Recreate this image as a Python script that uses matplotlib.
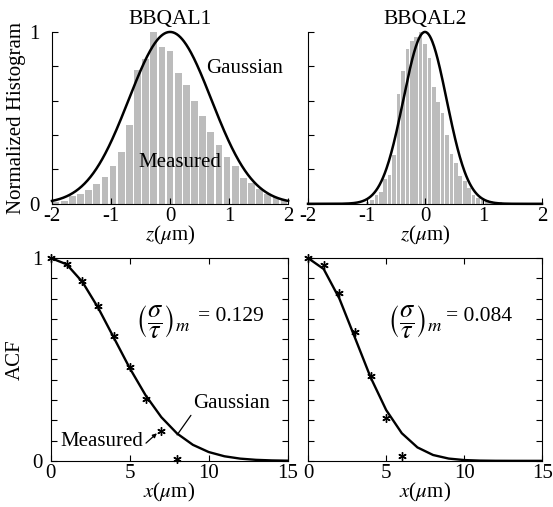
import numpy as np
import matplotlib
matplotlib.use("Agg")
from matplotlib import pyplot as plt

plt.rcParams['font.family'] = ['Liberation Serif', 'DejaVu Serif']
plt.rcParams['mathtext.fontset'] = 'stix'
plt.rcParams['font.size'] = 15

# --- data ---
# normalized histograms (bins span -2..2)
hist1 = [0.012, 0.016, 0.048, 0.058, 0.082, 0.118, 0.157, 0.22, 0.30, 0.46,
         0.78, 0.84, 1.0, 0.91, 0.89, 0.76, 0.69, 0.60, 0.51, 0.42,
         0.34, 0.27, 0.22, 0.15, 0.12, 0.085, 0.06, 0.04, 0.02]
hist2 = [0]*13 + [0.01, 0.023, 0.05, 0.066, 0.145, 0.165, 0.285, 0.64, 0.77, 0.90,
                  0.95, 0.97, 1.0, 0.93, 0.85, 0.68, 0.59, 0.53, 0.40, 0.29,
                  0.24, 0.16, 0.13, 0.09, 0.05, 0.035, 0.025, 0.02, 0.015, 0.01,
                  0.008, 0.005] + [0]*8
sigma1 = 0.70   # gaussian fit width, BBQAL1 (um)
sigma2 = 0.37   # gaussian fit width, BBQAL2 (um)

# autocorrelation, measured points and gaussian correlation lengths
lag1 = [0, 1, 2, 3, 4, 5, 6, 7, 8]
acf1 = [1.0, 0.972, 0.885, 0.764, 0.617, 0.461, 0.303, 0.148, 0.008]
lag2 = [0, 1, 2, 3, 4, 5, 6]
acf2 = [1.0, 0.967, 0.827, 0.633, 0.42, 0.209, 0.025]
corr_len1 = 5.65
corr_len2 = 4.25
ratio1 = "0.129"
ratio2 = "0.084"

titles = ["BBQAL1", "BBQAL2"]

fig = plt.figure(figsize=(5.53, 5.07), dpi=100)
ax_h1 = fig.add_axes([0.094, 0.598, 0.427, 0.339])
ax_h2 = fig.add_axes([0.557, 0.598, 0.423, 0.339])
ax_a1 = fig.add_axes([0.092, 0.091, 0.428, 0.400])
ax_a2 = fig.add_axes([0.557, 0.091, 0.424, 0.400])

bar_col = '#bcbcbc'
zz = np.linspace(-2, 2, 400)

for ax, h, sig, title in [(ax_h1, hist1, sigma1, titles[0]), (ax_h2, hist2, sigma2, titles[1])]:
    edges = np.linspace(-2, 2, len(h) + 1)
    w = edges[1] - edges[0]
    ax.bar(edges[:-1] + w/2, h, width=w*0.82, color=bar_col, linewidth=0)
    ax.plot(zz, np.exp(-zz**2 / (2*sig**2)), color='black', lw=1.8, clip_on=False)
    ax.set_xlim(-2, 2)
    ax.set_ylim(0, 1)
    ax.spines['top'].set_visible(False)
    ax.spines['right'].set_visible(False)
    ax.set_xticks([-2, -1, 0, 1, 2])
    ax.set_xticklabels(['-2', '-1', '0', '1', '2'])
    ax.set_yticks(np.arange(0, 1.01, 0.2))
    ax.tick_params(direction='in', length=4, width=0.8)
    ax.tick_params(axis='x', pad=2)
    ax.tick_params(axis='y', pad=9)
    ax.set_xlabel(r'$z$($\mu$m)', labelpad=-1)
    ax.set_title(title, fontsize=15.5, pad=6)

ax_h1.set_yticklabels(['0', '', '', '', '', '1'])
ax_h2.set_yticklabels([])
ax_h1.set_ylabel('Normalized Histogram')
ax_h1.yaxis.set_label_coords(-0.112, 0.5)
ax_h1.text(0.61, 0.79, 'Gaussian', va='center', ha='left')
ax_h1.text(0.17, 0.24, 'Measured', va='center', ha='center')

xx = np.arange(0, 16, 1.0)
panels = [(ax_a1, lag1, acf1, corr_len1, ratio1, 8.85, 9.35),
          (ax_a2, lag2, acf2, corr_len2, ratio2, 8.65, 8.85)]
for ax, lag, acf, L, r, xm, xe in panels:
    ax.plot(xx, np.exp(-xx**2 / L**2), color='black', lw=1.7)
    ax.plot(lag, acf, ls='none', marker=(6, 2, 0), color='black', markersize=6,
            markeredgewidth=1.0, clip_on=False)
    ax.set_xlim(0, 15)
    ax.set_ylim(0, 1)
    ax.set_xticks([0, 5, 10, 15])
    ax.set_yticks(np.arange(0, 1.01, 0.1))
    ax.tick_params(direction='in', length=4, width=0.8, top=True, right=True)
    ax.tick_params(axis='x', pad=2)
    ax.tick_params(axis='y', pad=6)
    ax.set_xlabel(r'$x$($\mu$m)', labelpad=-1)
    ax.text(xm, 0.685, r'$\left(\dfrac{\sigma}{\tau}\right)_{m}$',
            va='center', ha='right', fontsize=19)
    ax.text(xe, 0.71, '= ' + r, va='center', ha='left', fontsize=15.5)

ax_a1.set_yticklabels(['0'] + ['']*9 + ['1'])
ax_a2.set_yticklabels([])
ax_a1.set_ylabel('ACF')
ax_a1.yaxis.set_label_coords(-0.11, 0.5)
ax_a1.annotate('Gaussian', xy=(8.0, 0.128), xytext=(9.0, 0.285), va='center', ha='left',
               arrowprops=dict(arrowstyle='-', color='black', lw=0.9, shrinkA=0, shrinkB=0,
                               relpos=(0, 0)))
ax_a1.annotate('Measured', xy=(6.85, 0.145), xytext=(0.6, 0.094), va='center', ha='left',
               arrowprops=dict(arrowstyle='-|>', color='black', lw=0.9, mutation_scale=6,
                               shrinkA=0, shrinkB=2, relpos=(1, 0.3)))

fig.savefig('out.png', dpi=100)
